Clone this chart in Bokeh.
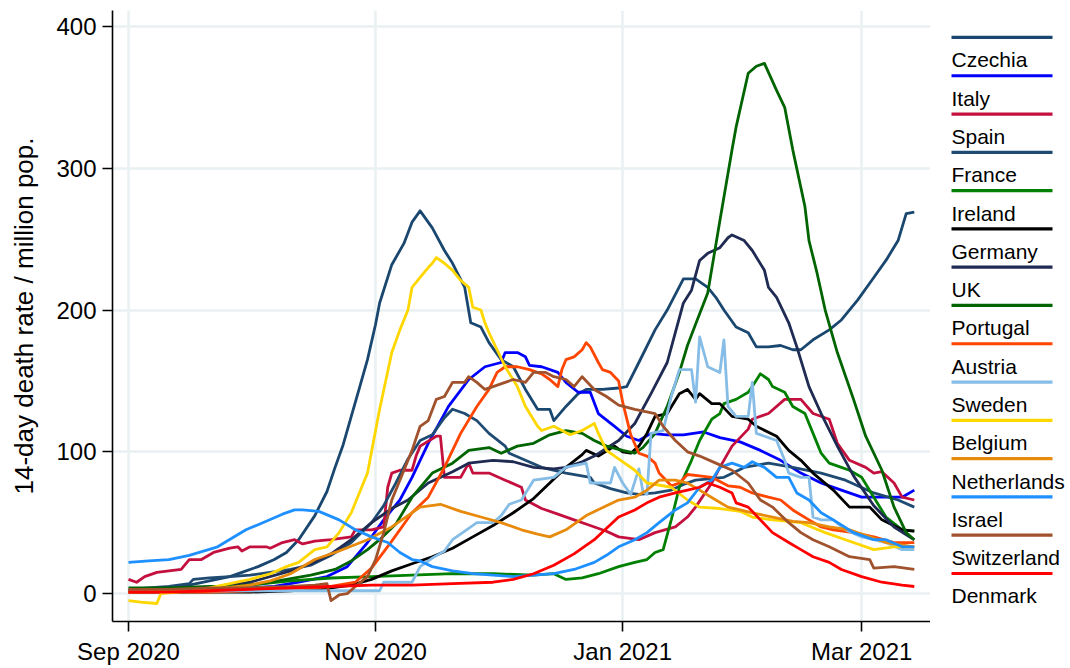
import numpy as np
import pandas as pd
from bokeh.plotting import figure
from bokeh.layouts import row
from bokeh.models import Range1d, FixedTicker, DatetimeTickFormatter
from bokeh.core.properties import value
from bokeh.embed import file_html
from bokeh.resources import INLINE

START = "2020-09-01"
COUNTRIES = ["Czechia", "Italy", "Spain", "France", "Ireland", "Germany", "UK",
             "Portugal", "Austria", "Sweden", "Belgium", "Netherlands", "Israel",
             "Switzerland", "Denmark"]
COLORS = ["#1a476f", "#0000ff", "#c4103e", "#1f4b73", "#008000", "#000000", "#1f2b52",
          "#006400", "#ff4500", "#86bde6", "#ffd700", "#e88a0c", "#1e90ff",
          "#a0522d", "#ff0000"]
X_TICK_DATES = ["2020-09-01", "2020-11-01", "2021-01-01", "2021-03-01"]
Y_TICKS = [0, 100, 200, 300, 400]
Y_TITLE = "14-day death rate / million pop."

# (days since 1 Sep 2020, 14-day deaths per million)
CZECHIA = [(0,2),(5,3),(10,3),(15,6),(20,9),(25,12),(28,15),(32,19),(36,24),(39,29),(42,38),
           (46,55),(49,72),(51,89),(53,105),(55,125),(57,145),(59,165),(61,190),(62,205),
           (65,232),(68,247),(70,262),(72,270),(75,258),(78,242),(80,233),(83,216),(84.5,191),
           (87,188),(89,177),(92,165),(95,160),(98,144),(101,130),(104,130),(105,122),(108,132),
           (111,141),(113,144),(117,144),(121,145),(123,146),(126,163),(130,186),(133,200),
           (137,222),(140,222),(143,216),(145,209),(147,200),(150,188),(153,184),(155,174),
           (158,174),(161,175),(164,172),(166,172),(169,179),(173,186),(176,193),(180,207),
           (184,223),(187,235),(190,249),(192,268),(194,269)]
ITALY = [(0,2),(10,2),(20,3),(30,4),(36,5),(42,8),(49,12),(54,19),(59,36),(63,52),(67,66),
         (70,82),(74,106),(79,132),(84,151),(88,160),(92,163),(93,170),(96,170),(98,167),
         (99,161),(102,160),(106,156),(108,149),(111,142),(114,142),(116,127),(120,118),
         (123,111),(126,108),(129,113),(133,112),(137,112),(142,114),(146,110),(151,107),
         (156,101),(161,94),(166,85),(171,78),(176,73),(181,68),(187,68),(191,68),(194,73)]
SPAIN = [(0,10),(2,8),(4,12),(7,15),(13,17),(15,24),(18,24),(21,29),(25,32),(27,33),(28,30),
         (30,33),(34,33),(35,32),(38,36),(41,38),(43,35),(46,37),(50,38),(55,40),(56,45),
         (60,45),(63,47),(64,75),(65,85),(67,87),(70,87),(71,97),(72,104),(76,111),(77,111),
         (78,82),(82,82),(84,92),(85,85),(89,85),(93,80),(97,75),(98,66),(102,60),(106,56),
         (110,52),(114,48),(118,44),(121,40),(126,38),(130,43),(135,47),(138,54),(140,61),
         (144,78),(146,89),(149,104),(150,107),(153,116),(154,123),(158,127),(162,137),
         (166,137),(169,127),(173,123),(175,106),(178,94),(182,89),(184,85),(186,86),
         (189,78),(191,68),(194,66)]
FRANCE = [(0,3),(5,4),(10,5),(15,7),(16,10),(20,11),(25,12),(30,13),(35,15),(40,17),(45,20),
          (50,27),(55,36),(60,50),(63,62),(66,78),(69,95),(72,108),(75,112),(78,124),(80,130),
          (83,127),(86,122),(89,113),(93,104),(94,99),(98,94),(102,89),(108,85),(114,82),
          (115,78),(119,74),(123,71),(126,70),(130,71),(134,73),(137,77),(140,80),(147,82),
          (152,89),(158,92),(164,89),(171,85),(177,80),(184,71),(190,66),(194,61)]
IRELAND = [(0,2),(10,3),(20,4),(30,6),(40,9),(50,11),(60,12),(70,13),(80,14),(90,14),(100,13),
           (105,14),(108,10),(112,11),(116,14),(121,19),(125,22),(128,24),(130,29),(132,31),
           (134,52),(136,75),(139,94),(141,108),(144,123),(146,127),(147,134),(150,137),
           (153,142),(154,146),(156,155),(158,151),(159,146),(162,142),(164,132),(167,127),
           (169,113),(171,99),(173,92),(176,89),(178,87),(181,82),(184,68),(187,54),(191,45),
           (194,44)]
GERMANY = [(0,1),(10,1),(20,1),(30,1),(40,2),(50,4),(55,6),(60,10),(65,16),(70,21),(75,26),
           (80,32),(85,40),(90,48),(95,57),(100,67),(104,78),(108,89),(112,98),(113,101),
           (116,97),(120,104),(122,100),(124,99),(126,104),(128,113),(130,125),(133,127),
           (136,141),(138,144),(140,137),(141,141),(144,134),(146,134),(149,125),(153,123),
           (155,118),(160,111),(163,101),(166,94),(169,85),(174,73),(178,61),(183,61),
           (186,52),(191,45),(194,44)]
UK = [(0,1),(10,2),(20,4),(30,8),(40,16),(45,21),(50,28),(55,38),(60,50),(65,60),(69,66),
      (74,78),(80,86),(84,92),(90,94),(95,93),(100,89),(105,88),(108,89),(112,93),(115,97),
      (121,108),(125,120),(129,141),(133,163),(135,184),(137,205),(139,214),(141,235),
      (143,240),(146,244),(148,251),(149,253),(152,249),(154,242),(157,228),(158,216),
      (160,209),(163,191),(165,174),(168,146),(171,127),(175,104),(179,83),(184,62),
      (189,47),(194,38)]
PORTUGAL = [(0,4),(10,4),(20,5),(26,5),(33,7),(39,10),(45,13),(51,17),(55,23),(59,31),(62,38),
            (66,49),(70,68),(75,85),(80,92),(84,101),(89,103),(92,99),(96,104),(100,106),
            (104,112),(108,115),(112,113),(115,108),(118,104),(122,101),(125,99),(127,103),
            (130,113),(133,132),(136,156),(138,175),(140,190),(143,212),(146,263),(149,313),
            (150,329),(153,367),(155,372),(157,374),(160,355),(162,343),(164,313),(167,273),
            (168,249),(170,226),(172,200),(175,170),(179,137),(182,111),(186,87),(189,61),
            (192,43),(194,38)]
AUSTRIA = [(0,1),(10,1),(20,1),(30,2),(40,3),(50,5),(56,8),(60,18),(65,37),(70,57),(74,68),
           (78,89),(82,113),(86,132),(89,144),(91,156),(93,160),(96,160),(99,158),(102,155),
           (104,151),(106,146),(107,158),(108,165),(110,167),(112,172),(113,177),(114,174),
           (116,163),(117,158),(119,156),(121,150),(122,135),(124,112),(126,99),(128,97),
           (130,92),(131,85),(134,76),(136,78),(138,84),(141,83),(144,82),(148,76),(151,75),
           (154,71),(158,68),(161,66),(164,59),(168,52),(171,47),(174,45),(179,43),(184,40),
           (189,36),(194,36)]
SWEDEN = [(0,3),(10,3),(20,2),(30,2),(40,2),(50,2),(57,2),(62,2),(63,8),(70,8),(72,19),
          (75,25),(78,30),(80,38),(84,46),(86,50),(90,50),(92,55),(94,63),(97,66),(100,80),
          (105,82),(108,89),(113,92),(114,78),(119,78),(120,89),(122,78),(124,70),(126,88),
          (127,72),(128,70),(129,113),(132,115),(134,139),(136,158),(139,158),(140,135),
          (141,181),(143,160),(146,156),(147,179),(148,132),(150,125),(153,125),(154,149),
          (155,113),(158,110),(160,108),(162,94),(163,85),(166,82),(168,82),(169,54),
          (171,52),(174,52),(177,45),(181,40),(184,38),(187,36),(191,31),(194,31)]
BELGIUM = [(0,-5),(3,-6),(7,-7),(8,0),(15,2),(20,4),(25,7),(30,10),(35,14),(39,19),(42,22),
           (46,31),(49,33),(52,43),(55,57),(59,85),(62,130),(65,170),(67,186),(69,200),
           (70,216),(72,223),(74,230),(75,233),(76,237),(78,233),(80,228),(82,221),(84,216),
           (85,202),(87,200),(88,191),(89,184),(91,172),(93,160),(96,146),(98,132),(101,118),
           (102,115),(105,118),(109,112),(112,115),(115,120),(116,113),(118,101),(121,95),
           (125,87),(128,78),(134,75),(138,66),(141,61),(146,60),(151,58),(154,54),(159,52),
           (166,50),(172,43),(177,38),(184,31),(189,33),(194,33)]
NETHERLANDS = [(0,1),(10,2),(20,3),(30,6),(35,9),(40,14),(46,24),(52,30),(59,38),(65,47),
               (72,61),(77,63),(82,58),(87,54),(92,50),(97,45),(101,42),(104,40),(108,45),
               (113,55),(118,62),(121,66),(125,68),(128,73),(131,80),(135,80),(138,78),
               (141,73),(145,66),(148,61),(151,59),(154,57),(159,54),(164,51),(168,50),
               (173,47),(178,45),(183,40),(187,36),(194,33)]
ISRAEL = [(0,22),(5,23),(10,24),(15,27),(22,33),(29,45),(34,51),(38,56),(41,59),(43,59),
          (47,58),(52,52),(56,45),(60,40),(64,36),(67,29),(70,24),(72,23),(75,19),(80,16),
          (85,14),(90,13),(95,12),(100,13),(105,14),(110,17),(115,22),(118,27),(121,33),
          (125,38),(128,43),(131,50),(135,59),(138,64),(141,75),(144,80),(146,89),(149,92),
          (152,89),(154,93),(157,89),(160,82),(163,82),(165,71),(168,66),(171,57),(174,52),
          (179,43),(184,38),(187,38),(191,33),(194,33)]
SWITZERLAND = [(0,3),(10,3),(20,4),(30,4),(40,5),(46,6),(49,7),(50,-5),(52,-1),(54,0),(56,5),
               (59,12),(61,24),(63,43),(65,66),(67,80),(70,101),(72,118),(74,122),(76,137),
               (78,139),(80,149),(83,149),(84,153),(86,149),(88,144),(90,146),(93,149),
               (95,151),(98,149),(100,156),(103,156),(105,153),(108,151),(110,146),(112,153),
               (115,144),(118,139),(121,133),(125,130),(130,127),(132,118),(135,108),
               (138,100),(141,97),(145,92),(149,87),(153,78),(156,66),(159,61),(163,50),
               (166,43),(169,38),(173,33),(178,26),(183,24),(184,18),(189,19),(194,17)]
DENMARK = [(0,1),(10,1),(20,2),(30,3),(40,4),(50,5),(60,6),(70,6),(80,7),(90,8),(95,10),
           (100,14),(105,20),(110,28),(115,38),(121,54),(125,59),(128,64),(131,68),(135,71),
           (138,73),(141,75),(143,78),(146,75),(149,71),(150,64),(153,61),(156,52),(159,43),
           (163,36),(166,31),(169,26),(173,22),(176,17),(181,12),(186,8),(191,6),(194,5)]

SERIES = [CZECHIA, ITALY, SPAIN, FRANCE, IRELAND, GERMANY, UK, PORTUGAL, AUSTRIA, SWEDEN,
          BELGIUM, NETHERLANDS, ISRAEL, SWITZERLAND, DENMARK]

FONT = "Liberation Sans"
DAY_MS = 86400000.0
base_ms = pd.Timestamp(START).timestamp() * 1000.0

H = 667
TOP = 10
BOTTOM = 45

p = figure(width=930, height=H, output_backend="svg", toolbar_location=None,
           x_axis_type="datetime",
           x_range=Range1d(base_ms - 3.95 * DAY_MS, base_ms + 198 * DAY_MS),
           y_range=Range1d(-19.7, 411.3),
           min_border_left=112, min_border_right=0, min_border_top=TOP,
           min_border_bottom=BOTTOM)
p.outline_line_color = None
p.background_fill_color = "white"

for data, color in zip(SERIES, COLORS):
    xs = np.array([base_ms + d * DAY_MS for d, _ in data])
    ys = np.array([v for _, v in data], dtype=float)
    p.line(xs, ys, line_color=color, line_width=2.8, line_join="round")

p.xaxis.ticker = FixedTicker(ticks=[pd.Timestamp(t).timestamp() * 1000.0 for t in X_TICK_DATES])
fmt = "%b %Y"
p.xaxis.formatter = DatetimeTickFormatter(milliseconds=fmt, seconds=fmt, minsec=fmt, minutes=fmt,
                                          hourmin=fmt, hours=fmt, days=fmt, months=fmt, years=fmt)
p.yaxis.ticker = FixedTicker(ticks=Y_TICKS)
p.yaxis.axis_label = Y_TITLE

for ax in (p.xaxis[0], p.yaxis[0]):
    ax.axis_line_color = "black"
    ax.axis_line_width = 1.6
    ax.major_tick_line_color = "black"
    ax.major_tick_line_width = 1.6
    ax.major_tick_out = 10
    ax.major_tick_in = 0
    ax.minor_tick_line_color = None
    ax.major_label_text_font = FONT
    ax.major_label_text_font_size = "24px"
    ax.major_label_text_color = "black"
    ax.major_label_standoff = 6
    ax.axis_label_text_font = FONT
    ax.axis_label_text_font_size = "26px"
    ax.axis_label_text_font_style = "normal"
    ax.axis_label_text_color = "black"
p.yaxis.axis_label_standoff = 14

for g in (p.xgrid[0], p.ygrid[0]):
    g.grid_line_color = "#e9f1f3"
    g.grid_line_width = 2.5

# legend panel (key line above each label); y values are page pixels from the top
LW = 140
leg = figure(width=LW, height=H, output_backend="svg", toolbar_location=None,
             x_axis_type=None, y_axis_type=None,
             x_range=Range1d(0, LW), y_range=Range1d(H - BOTTOM, TOP),
             min_border_left=0, min_border_right=0, min_border_top=TOP,
             min_border_bottom=BOTTOM)
leg.outline_line_color = None
step = 38.35
n = len(COUNTRIES)
key_y = [37 + step * i for i in range(n)]
lab_y = [59.5 + step * i for i in range(n)]
leg.segment(x0=[21] * n, x1=[122] * n, y0=key_y, y1=key_y,
            line_color=COLORS, line_width=3.2)
leg.text(x=[21] * n, y=lab_y, text=COUNTRIES, text_font=value(FONT),
         text_font_size="21px", text_baseline="middle", text_align="left",
         text_color="black")

layout = row(p, leg)
open("out.html", "w").write(file_html(layout, INLINE))
